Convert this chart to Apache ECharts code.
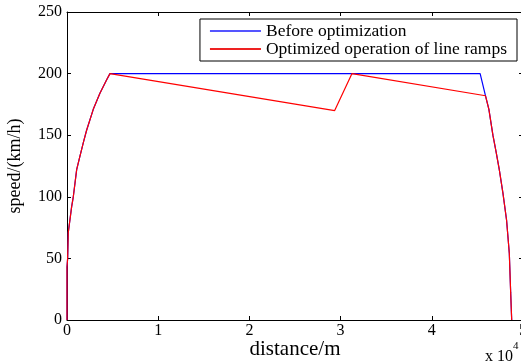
<!DOCTYPE html>
<html>
<head>
<meta charset="utf-8">
<script src="https://cdn.jsdelivr.net/npm/echarts@6/dist/echarts.min.js"></script>
<style>html,body{margin:0;padding:0;background:#fff}#c{width:521px;height:362px}</style>
</head>
<body>
<div id="c"></div>
<script>
// distances in units of 10^4 m, speed in km/h
const accelD = [0, 0, 0.007, 0.014, 0.051, 0.069, 0.106, 0.142, 0.179, 0.215, 0.288, 0.361, 0.435, 0.471];
const accelV = [0, 43, 50, 71, 92, 100, 122, 133, 144, 154, 171, 184, 195, 200];
const cruiseEndD = 4.53;
const cruiseV = 200;
const decelD = [4.589, 4.626, 4.67, 4.706, 4.74, 4.78, 4.82, 4.85, 4.865, 4.876];
const decelV = [182, 171, 150, 136, 122, 103, 81, 54, 22, 0];
const rampD = [2.935, 3.125];
const rampV = [170, 200];
const xTicks = [0, 1, 2, 3, 4, 5];
const yTicks = [0, 50, 100, 150, 200, 250];

const pairs = (d, v) => d.map((x, i) => [x, v[i]]);
const blue = [...pairs(accelD, accelV), [cruiseEndD, cruiseV], ...pairs(decelD, decelV)];
const red = [...pairs(accelD, accelV), ...pairs(rampD, rampV), ...pairs(decelD, decelV)];

const font = 'Liberation Serif, Times New Roman, serif';
const chart = echarts.init(document.getElementById('c'));
const axisCommon = {
  min: 0,
  axisLine: {show: true, onZero: false, lineStyle: {color: '#000', width: 1}},
  axisTick: {show: true, inside: true, length: 4, lineStyle: {color: '#000'}},
  splitLine: {show: false},
};
chart.setOption({
  animation: false,
  grid: {left: 67, top: 12, right: -2, bottom: 42, containLabel: false, outerBoundsMode: 'none'},
  legend: {
    right: 4, top: 19,
    orient: 'vertical',
    backgroundColor: '#fff',
    borderColor: '#000', borderWidth: 1,
    padding: [3, 10, 3, 10],
    itemGap: 0,
    itemWidth: 51, itemHeight: 2,
    icon: 'rect',
    textStyle: {fontFamily: font, fontSize: 17.5, color: '#000'},
    data: ['Before optimization', 'Optimized operation of line ramps']
  },
  xAxis: [
    Object.assign({}, axisCommon, {
      type: 'value', max: 5, interval: 1, position: 'bottom',
      axisLabel: {color: '#000', fontFamily: font, fontSize: 16, margin: 3},
      name: 'distance/m', nameLocation: 'middle', nameGap: 19, nameMoveOverlap: false,
      nameTextStyle: {fontFamily: font, fontSize: 21, color: '#000'}
    }),
    Object.assign({}, axisCommon, {
      type: 'value', max: 5, interval: 1, position: 'top',
      axisLabel: {show: false}
    })
  ],
  yAxis: [
    Object.assign({}, axisCommon, {
      type: 'value', max: 250, interval: 50, position: 'left',
      axisLabel: {color: '#000', fontFamily: font, fontSize: 16, margin: 5},
      name: 'speed/(km/h)', nameLocation: 'middle', nameGap: 43, nameRotate: 90, nameMoveOverlap: false,
      nameTextStyle: {fontFamily: font, fontSize: 18, color: '#000'}
    }),
    Object.assign({}, axisCommon, {
      type: 'value', max: 250, interval: 50, position: 'right',
      axisLabel: {show: false}
    })
  ],
  series: [
    {name: 'Before optimization', type: 'line', data: blue, showSymbol: false,
     lineStyle: {color: '#0000ff', width: 1.2}, itemStyle: {color: '#5555ff'}},
    {name: 'Optimized operation of line ramps', type: 'line', data: red, showSymbol: false,
     lineStyle: {color: '#ff0000', width: 1.2}, itemStyle: {color: '#ee2222'}}
  ],
  graphic: [{
    type: 'text', left: 485, top: 341,
    style: {
      text: '{a|x 10}{s|4}',
      rich: {
        a: {fontFamily: font, fontSize: 16, fill: '#000', verticalAlign: 'bottom', padding: [8, 0, 0, 0]},
        s: {fontFamily: font, fontSize: 11, fill: '#000', verticalAlign: 'top'}
      }
    }
  }]
});
</script>
</body>
</html>
